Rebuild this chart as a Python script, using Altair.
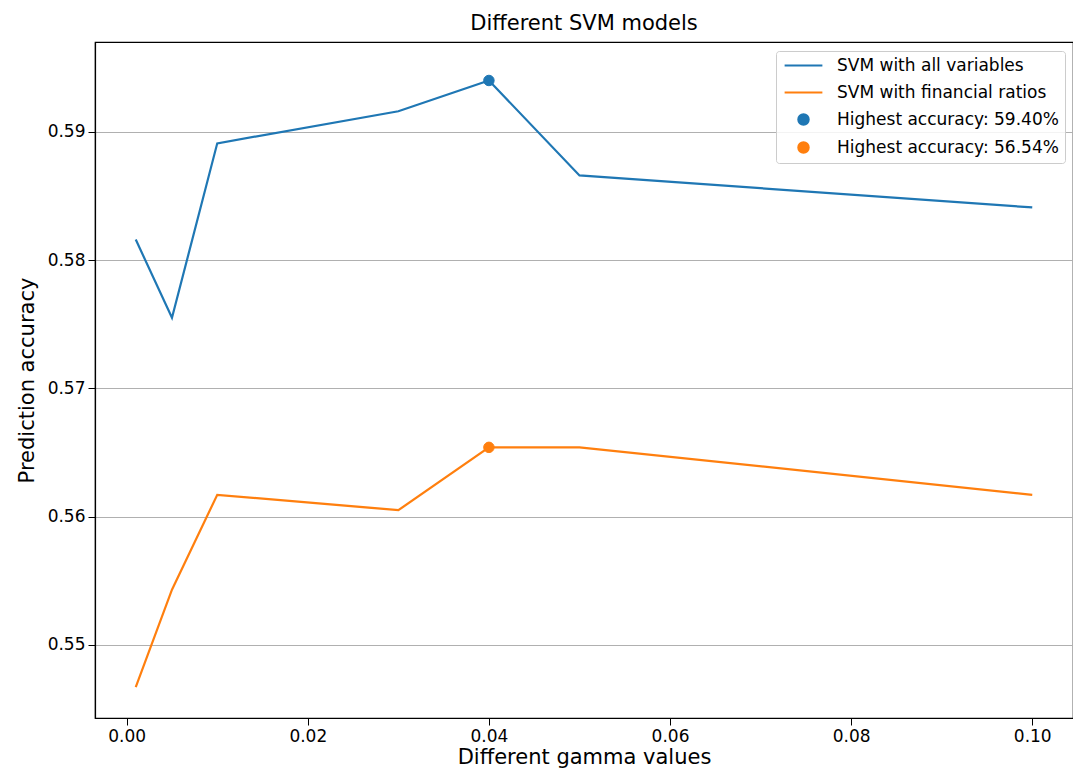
import altair as alt
import pandas as pd

gamma = [0.001, 0.005, 0.01, 0.03, 0.04, 0.05, 0.1]
acc_all = [0.5816, 0.5755, 0.5891, 0.5916, 0.5940, 0.5866, 0.5841]
acc_fin = [0.5467, 0.5543, 0.5617, 0.5605, 0.5654, 0.5654, 0.5617]

labels = ["SVM with all variables", "SVM with financial ratios",
          "Highest accuracy: 59.40%", "Highest accuracy: 56.54%"]
colors = ["#1f77b4", "#ff7f0e", "#1f77b4", "#ff7f0e"]
shapes = ["M-3.6,0L3.6,0", "M-3.6,0L3.6,0", "circle", "circle"]

best_x = [0.04, 0.04]
best_y = [0.5940, 0.5654]

x_ticks = [0.0, 0.02, 0.04, 0.06, 0.08, 0.10]
y_ticks = [0.55, 0.56, 0.57, 0.58, 0.59]

lines = pd.DataFrame({
    "gamma": gamma + gamma,
    "acc": acc_all + acc_fin,
    "series": [labels[0]] * len(gamma) + [labels[1]] * len(gamma),
})
points = pd.DataFrame({"gamma": best_x, "acc": best_y, "series": labels[2:]})

FONT = "DejaVu Sans"

xenc = alt.X("gamma:Q",
             scale=alt.Scale(domain=[-0.0035, 0.1045], nice=False, zero=False),
             axis=alt.Axis(values=x_ticks, format=".2f", title="Different gamma values",
                           grid=False))
yenc = alt.Y("acc:Q",
             scale=alt.Scale(domain=[0.5443, 0.5970], nice=False, zero=False),
             axis=alt.Axis(values=y_ticks, format=".2f", title="Prediction accuracy",
                           grid=True))

legend = alt.Legend(title=None, orient="none", legendX=681, legendY=9,
                    fillColor="rgba(255,255,255,0.85)", strokeColor="#cccccc",
                    cornerRadius=3, padding=6, labelFontSize=17, labelFont=FONT,
                    labelColor="#000000", labelOffset=25, rowPadding=9,
                    symbolOffset=13, symbolSize=110,
                    symbolStrokeWidth=2, symbolOpacity=1, labelLimit=400)

stroke_scale = alt.Scale(domain=labels, range=colors)

line_layer = alt.Chart(lines).mark_line(strokeWidth=2.2).encode(
    x=xenc, y=yenc,
    stroke=alt.Stroke("series:N", scale=stroke_scale, legend=legend),
)

point_layer = alt.Chart(points).mark_point(filled=True, opacity=1, strokeWidth=1,
                                           size=110).encode(
    x=xenc, y=yenc,
    fill=alt.Fill("series:N", scale=alt.Scale(domain=labels, range=colors), legend=legend),
    stroke=alt.Stroke("series:N", scale=stroke_scale, legend=legend),
    shape=alt.Shape("series:N", scale=alt.Scale(domain=labels, range=shapes), legend=legend),
)

chart = alt.layer(line_layer, point_layer).properties(
    width=978, height=676,
    title=alt.TitleParams("Different SVM models", fontSize=21, font=FONT,
                          fontWeight="normal", color="#000000", offset=8),
    autosize=alt.AutoSizeParams(type="none"),
    padding={"left": 87, "top": 34, "right": 0, "bottom": 52},
).configure_view(
    stroke="#000000", strokeWidth=1.2
).configure_axis(
    labelFont=FONT, titleFont=FONT, labelFontSize=17, titleFontSize=21,
    labelColor="#000000", titleColor="#000000", titleFontWeight="normal",
    domainColor="#000000", domainWidth=1.2, tickColor="#000000", tickSize=7,
    tickWidth=1, gridColor="#b0b0b0", gridWidth=1, labelPadding=3,
).configure_axisX(
    titlePadding=2
).configure_axisY(
    titlePadding=10
)

chart.save("out.html", embed_options={"renderer": "svg", "actions": False})
